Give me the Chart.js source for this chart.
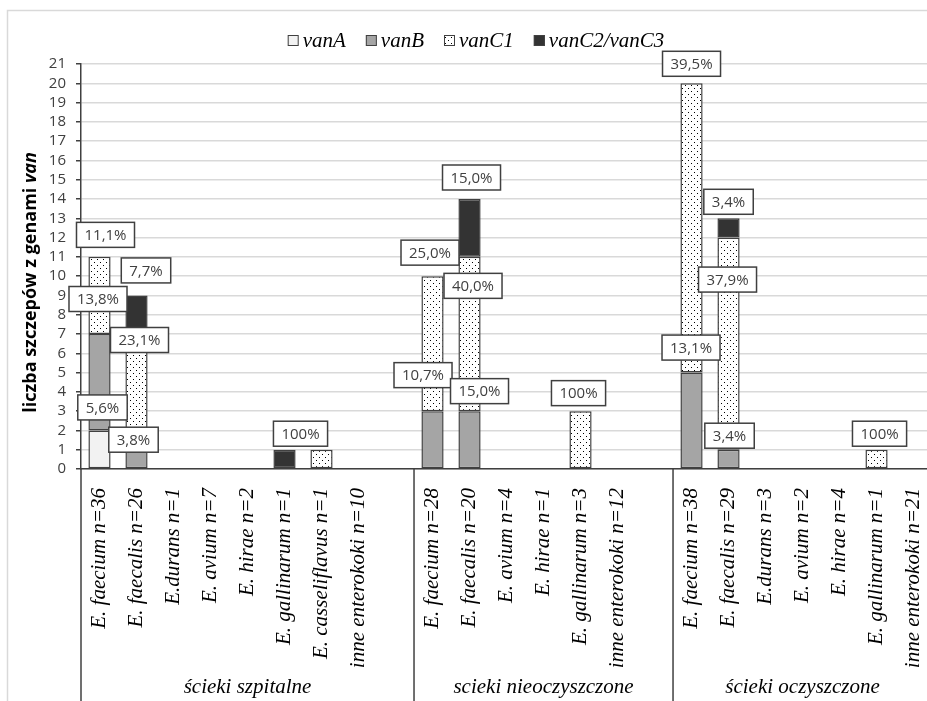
<!DOCTYPE html>
<html>
<head>
<meta charset="utf-8">
<script src="https://cdn.jsdelivr.net/npm/chart.js@4.4.1/dist/chart.umd.min.js"></script>
<style>
  html, body { margin: 0; padding: 0; background: #fff; overflow: hidden; }
  canvas { display: block; }
</style>
</head>
<body>
<canvas id="chart" width="950" height="701"></canvas>
<script>
// species per sampling site; '' entries are spacer slots between site groups
const categories = [
  'E. faecium n=36', 'E. faecalis n=26', 'E.durans n=1', 'E. avium n=7', 'E. hirae n=2',
  'E. gallinarum n=1', 'E. casseliflavus n=1', 'inne enterokoki n=10', '',
  'E. faecium n=28', 'E. faecalis n=20', 'E. avium n=4', 'E. hirae n=1',
  'E. gallinarum n=3', 'inne enterokoki n=12', '',
  'E. faecium n=38', 'E. faecalis n=29', 'E.durans n=3', 'E. avium n=2', 'E. hirae n=4',
  'E. gallinarum n=1', 'inne enterokoki n=21'
];
const groupNames = ['ścieki szpitalne', 'scieki nieoczyszczone', 'ścieki oczyszczone'];
const groupRanges = [[0, 8], [9, 15], [16, 22]];

const vanA  = [2, 0, 0, 0, 0, 0, 0, 0, null, 0, 0, 0, 0, 0, 0, null, 0, 0, 0, 0, 0, 0, 0];
const vanB  = [5, 1, 0, 0, 0, 0, 0, 0, null, 3, 3, 0, 0, 0, 0, null, 5, 1, 0, 0, 0, 0, 0];
const vanC1 = [4, 6, 0, 0, 0, 0, 1, 0, null, 7, 8, 0, 0, 3, 0, null, 15, 11, 0, 0, 0, 1, 0];
const vanC2 = [0, 2, 0, 0, 0, 1, 0, 0, null, 0, 3, 0, 0, 0, 0, null, 0, 1, 0, 0, 0, 0, 0];

// percentage labels per gene (share of isolates of the species)
const pctA  = ['5,6%', null, null, null, null, null, null, null, null, null, null, null, null, null, null, null, null, null, null, null, null, null, null];
const pctB  = ['13,8%', '3,8%', null, null, null, null, null, null, null, '10,7%', '15,0%', null, null, null, null, null, '13,1%', '3,4%', null, null, null, null, null];
const pctC1 = ['11,1%', '23,1%', null, null, null, null, null, null, null, '25,0%', '40,0%', null, null, '100%', null, null, '39,5%', '37,9%', null, null, null, '100%', null];
const pctC2 = [null, '7,7%', null, null, null, '100%', null, null, null, null, '15,0%', null, null, null, null, null, null, '3,4%', null, null, null, null, null];

const yTicksMax = 21;

// where each label box sits relative to the top centre of its segment [dx, dy]
const labelShift = {
  '0:0': [3, -23],
  '1:0': [-1.5, -35], '1:1': [-3, -10], '1:9': [-9.5, -36], '1:10': [10, -20], '1:16': [-0.5, -25], '1:17': [1, -14],
  '2:0': [6, -22], '2:1': [3, 6], '2:9': [-2.5, -23.5], '2:10': [3.5, 29], '2:13': [-2, -18],
  '2:16': [0, -19.5], '2:17': [-1, 42], '2:21': [3, -16],
  '3:1': [9.5, -25], '3:5': [16, -16], '3:10': [2, -21.5], '3:17': [0, -16.5]
};

const SERIF = '"Liberation Serif", "Times New Roman", serif';
const SANS = '"Open Sans", "Noto Sans", sans-serif';
const EDGE = '#404040';

function dotPattern() {
  const c = document.createElement('canvas');
  c.width = 6; c.height = 6;
  const g = c.getContext('2d');
  g.fillStyle = '#fff';
  g.fillRect(0, 0, 6, 6);
  g.fillStyle = '#000';
  g.fillRect(1, 1, 1, 1);
  g.fillRect(4, 4, 1, 1);
  return g.createPattern(c, 'repeat');
}
const dots = dotPattern();

const series = [
  { label: 'vanA', data: vanA, color: '#f2f2f2', pct: pctA },
  { label: 'vanB', data: vanB, color: '#a5a5a5', pct: pctB },
  { label: 'vanC1', data: vanC1, color: dots, pct: pctC1 },
  { label: 'vanC2/vanC3', data: vanC2, color: '#333333', pct: pctC2 }
];

const decor = {
  id: 'decor',
  beforeDraw(chart) {
    const ctx = chart.ctx;
    ctx.save();
    ctx.strokeStyle = '#d9d9d9';
    ctx.lineWidth = 1.5;
    ctx.strokeRect(7.5, 10.5, 2000, 2000);
    ctx.restore();
  },
  afterDatasetsDraw(chart) {
    const ctx = chart.ctx;
    ctx.save();
    ctx.font = '15px ' + SANS;
    ctx.textAlign = 'center';
    ctx.textBaseline = 'middle';
    series.forEach((s, di) => {
      const meta = chart.getDatasetMeta(di);
      s.pct.forEach((txt, i) => {
        if (!txt) return;
        const bar = meta.data[i];
        const [dx, dy] = labelShift[di + ':' + i] || [0, -16];
        const cx = bar.x + dx, cy = bar.y + dy;
        const w = ctx.measureText(txt).width + 16, h = 25;
        ctx.fillStyle = '#fff';
        ctx.fillRect(cx - w / 2, cy - h / 2, w, h);
        ctx.strokeStyle = EDGE;
        ctx.lineWidth = 1.5;
        ctx.strokeRect(cx - w / 2, cy - h / 2, w, h);
        ctx.fillStyle = EDGE;
        ctx.fillText(txt, cx, cy + 1);
      });
    });
    ctx.restore();
  },
  afterDraw(chart) {
    const ctx = chart.ctx;
    const area = chart.chartArea;
    const x = chart.scales.x;
    const bounds = [area.left];
    groupRanges.slice(0, -1).forEach(r => {
      bounds.push((x.getPixelForValue(r[1]) + x.getPixelForValue(r[1] + 1)) / 2);
    });
    bounds.push(area.right);

    ctx.save();
    // group separators under the category axis
    ctx.strokeStyle = EDGE;
    ctx.lineWidth = 1.5;
    bounds.forEach(b => {
      ctx.beginPath();
      ctx.moveTo(b, area.bottom);
      ctx.lineTo(b, chart.height);
      ctx.stroke();
    });
    ctx.fillStyle = '#000';
    ctx.font = 'italic 21px ' + SERIF;
    ctx.textAlign = 'center';
    ctx.textBaseline = 'middle';
    groupNames.forEach((name, i) => {
      ctx.fillText(name, (bounds[i] + bounds[i + 1]) / 2, chart.height - 14);
    });

    // y axis title, bold with the gene name in italics
    const partA = 'liczba szczepów z genami ', partB = 'van';
    const fA = 'bold 18px ' + SANS, fB = 'italic bold 18px ' + SANS;
    ctx.font = fA; const wA = ctx.measureText(partA).width;
    ctx.font = fB; const wB = ctx.measureText(partB).width;
    ctx.translate(31, (area.top + area.bottom) / 2 + 16);
    ctx.rotate(-Math.PI / 2);
    ctx.textAlign = 'left';
    ctx.fillStyle = '#000';
    ctx.font = fA; ctx.fillText(partA, -(wA + wB) / 2, 0);
    ctx.font = fB; ctx.fillText(partB, -(wA + wB) / 2 + wA, 0);
    ctx.setTransform(1, 0, 0, 1, 0, 0);

    // legend
    ctx.font = 'italic 21px ' + SERIF;
    ctx.textBaseline = 'alphabetic';
    const box = 11, gap = 4, spacing = 20;
    const widths = series.map(s => box + gap + ctx.measureText(s.label).width);
    const total = widths.reduce((a, b) => a + b, 0) + spacing * (series.length - 1);
    let lx = 476 - total / 2;
    series.forEach((s, i) => {
      ctx.fillStyle = s.color;
      ctx.fillRect(lx, 35, box, box);
      ctx.strokeStyle = EDGE;
      ctx.lineWidth = 1;
      ctx.strokeRect(lx + 0.5, 35.5, box - 1, box - 1);
      ctx.fillStyle = '#000';
      ctx.fillText(s.label, lx + box + gap, 47);
      lx += widths[i] + spacing;
    });
    ctx.restore();
  }
};

new Chart(document.getElementById('chart'), {
  type: 'bar',
  data: {
    labels: categories,
    datasets: series.map(s => ({
      label: s.label,
      data: s.data,
      backgroundColor: s.color,
      borderColor: EDGE,
      borderWidth: 1.5,
      borderSkipped: false,
      barPercentage: 0.6,
      categoryPercentage: 1
    }))
  },
  options: {
    responsive: false,
    animation: false,
    devicePixelRatio: 1,
    layout: { padding: { top: 64, right: 12, left: 0, bottom: 0 } },
    plugins: {
      legend: { display: false },
      tooltip: { enabled: false }
    },
    scales: {
      x: {
        stacked: true,
        grid: { display: false },
        border: { display: true, color: EDGE, width: 1.5 },
        ticks: {
          autoSkip: false,
          minRotation: 90,
          maxRotation: 90,
          padding: 11,
          color: '#000',
          font: { family: SERIF, size: 21, style: 'italic' }
        },
        afterFit: s => { s.height = 232; }
      },
      y: {
        stacked: true,
        min: 0,
        max: yTicksMax,
        grid: { color: '#d9d9d9', lineWidth: 1.5, tickLength: 5, tickColor: EDGE, tickWidth: 1.5 },
        border: { display: true, color: EDGE, width: 1.5 },
        ticks: {
          stepSize: 1,
          autoSkip: false,
          padding: 10,
          color: EDGE,
          font: { family: SANS, size: 15 }
        },
        afterFit: s => { s.width = 81; }
      }
    }
  },
  plugins: [decor]
});
</script>
</body>
</html>
